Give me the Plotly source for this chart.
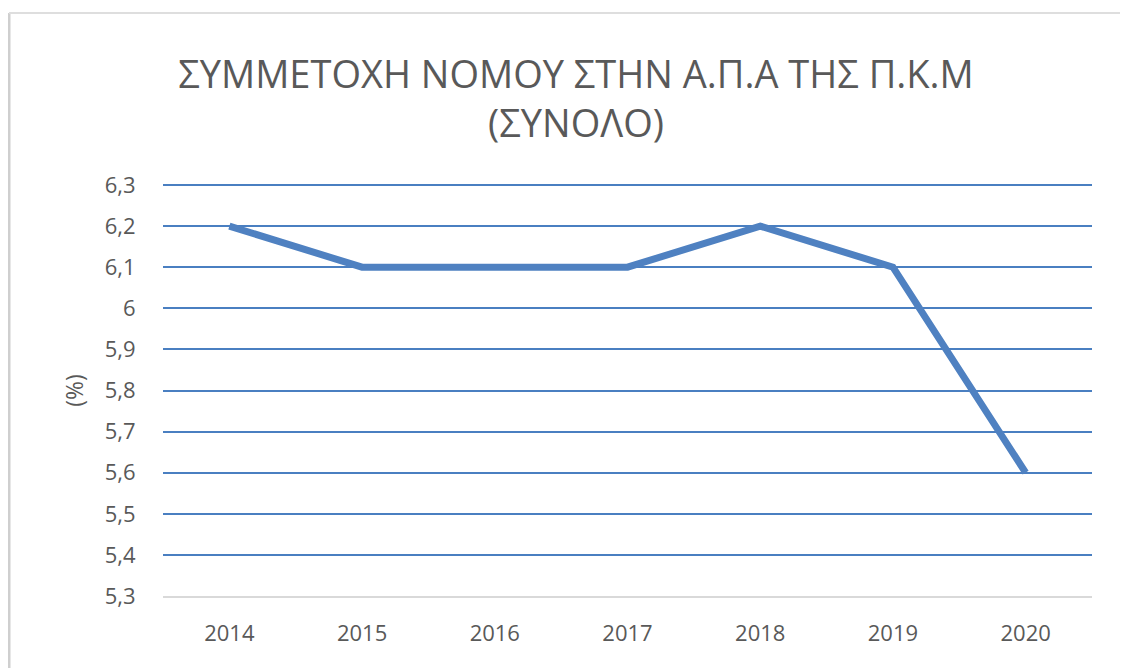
import plotly.graph_objects as go

years = ["2014", "2015", "2016", "2017", "2018", "2019", "2020"]
share = [6.2, 6.1, 6.1, 6.1, 6.2, 6.1, 5.6]
title_text = "ΣΥΜΜΕΤΟΧΗ ΝΟΜΟΥ ΣΤΗΝ Α.Π.Α ΤΗΣ Π.Κ.Μ<br>(ΣΥΝΟΛΟ)"
y_title = "(%)"
y_ticks = [5.3, 5.4, 5.5, 5.6, 5.7, 5.8, 5.9, 6.0, 6.1, 6.2, 6.3]
y_ticktext = ["5,3", "5,4", "5,5", "5,6", "5,7", "5,8", "5,9", "6", "6,1", "6,2", "6,3"]

W, H = 1128, 668
OFF = 8  # page body margin
L, R, T, B = 163 - OFF, 36 + OFF, 185 - OFF, 72 + OFF
pw, ph = W - L - R, H - T - B

def px(x):
    return (x - OFF - L) / pw

def py(y):
    return (H - B - (y - OFF)) / ph

GRID = "#4a7fc1"

fig = go.Figure()
fig.add_trace(go.Scatter(
    x=years, y=share, mode="lines",
    line=dict(color="#4f81c1", width=7),
    hoverinfo="x+y",
))

fig.update_layout(
    width=W, height=H,
    margin=dict(l=L, r=R, t=T, b=B),
    paper_bgcolor="white", plot_bgcolor="white",
    showlegend=False,
    font=dict(family="Open Sans", color="#595959"),
    title=dict(
        text=title_text, x=(576 - OFF) / W, xref="container", xanchor="center",
        y=1 - (88 - OFF) / H, yref="container", yanchor="middle",
        font=dict(size=38, color="#595959", family="Open Sans"),
    ),
    xaxis=dict(
        type="category", range=[-0.5, 6.5],
        showgrid=False, showline=True, linecolor="#d9d9d9", linewidth=2,
        ticks="outside", ticklen=17, tickcolor="rgba(0,0,0,0)",
        tickfont=dict(size=22, color="#595959"),
    ),
    yaxis=dict(
        range=[y_ticks[0], y_ticks[-1]], tickvals=y_ticks, ticktext=y_ticktext,
        showgrid=True, gridcolor=GRID, gridwidth=2,
        zeroline=False, showline=False,
        ticks="outside", ticklen=22, tickcolor="rgba(0,0,0,0)",
        tickfont=dict(size=22, color="#595959"),
        title=dict(text=y_title, font=dict(size=23, color="#595959"), standoff=14),
    ),
    shapes=[
        dict(type="line", xref="paper", yref="paper",
             x0=0, x1=1, y0=1, y1=1,
             line=dict(color=GRID, width=2), layer="below"),
        dict(type="line", xref="paper", yref="paper",
             x0=px(9), x1=px(9), y0=py(13), y1=py(H + 20),
             line=dict(color="#cfcfcf", width=3)),
        dict(type="line", xref="paper", yref="paper",
             x0=px(9), x1=px(W + 20), y0=py(13), y1=py(13),
             line=dict(color="#dedede", width=2)),
    ],
)

fig.write_html("out.html")
